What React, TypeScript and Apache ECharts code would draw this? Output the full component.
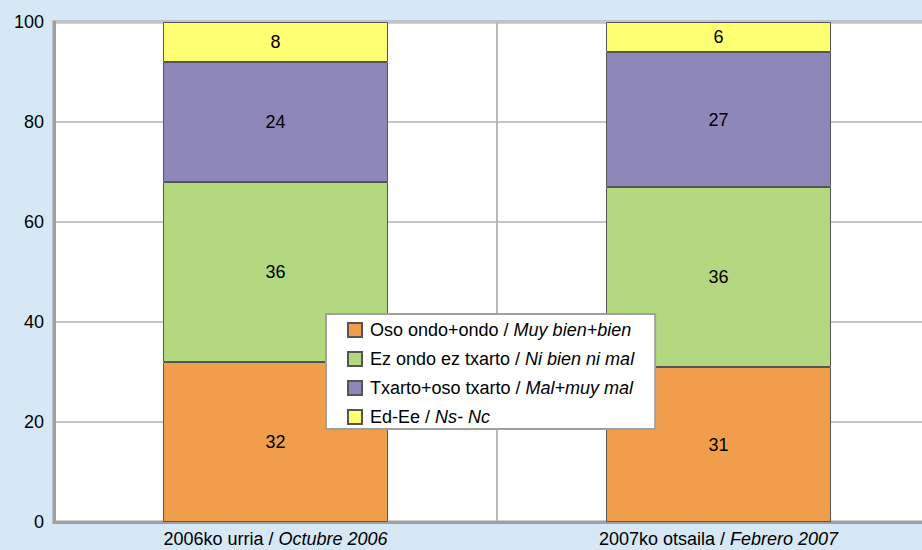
import React, { useEffect, useRef } from "react";
import * as echarts from "echarts";

const categories = ["2006ko urria|Octubre 2006", "2007ko otsaila|Febrero 2007"];
const seriesNames = [
  "Oso ondo+ondo|Muy bien+bien",
  "Ez ondo ez txarto|Ni bien ni mal",
  "Txarto+oso txarto|Mal+muy mal",
  "Ed-Ee|Ns- Nc",
];
const valsGood = [32, 31];
const valsNeither = [36, 36];
const valsBad = [24, 27];
const valsNsNc = [8, 6];
const colors = ["#f09e4b", "#b3d87f", "#8e87ba", "#ffff73"];

const FONT = "Arial";
const FS = 18;

function richLabel(s: string) {
  const [a, b] = s.split("|");
  return `{n|${a} / }{i|${b}}`;
}

export default function App() {
  const ref = useRef<HTMLDivElement>(null);
  useEffect(() => {
    if (!ref.current) return;
    const chart = echarts.init(ref.current, null, { renderer: "svg" });
    const dataSets = [valsGood, valsNeither, valsBad, valsNsNc];
    const rich = {
      n: { fontFamily: FONT, fontSize: FS, color: "#000", lineHeight: FS },
      i: { fontFamily: FONT, fontSize: FS, color: "#000", fontStyle: "italic", lineHeight: FS },
    };
    const legendRich = {
      n: { fontFamily: FONT, fontSize: FS, color: "#000", lineHeight: FS, padding: [0, 0, 0, 3] },
      i: { fontFamily: FONT, fontSize: FS, color: "#000", fontStyle: "italic", lineHeight: FS },
    };
    chart.setOption({
      animation: false,
      backgroundColor: "#d6e7f5",
      textStyle: { fontFamily: FONT },
      grid: {
        left: 54,
        top: 22,
        width: 886,
        height: 500,
        outerBoundsMode: "none",
        containLabel: false,
        show: true,
        backgroundColor: "#ffffff",
        borderColor: "#a0a0a0",
        borderWidth: 3,
      },
      legend: {
        orient: "vertical",
        left: 326,
        top: 314,
        backgroundColor: "#ffffff",
        borderColor: "#a0a0a0",
        borderWidth: 2,
        padding: [7, 21, 3, 21],
        itemGap: 11,
        itemWidth: 14,
        itemHeight: 14,
        icon: "rect",
        data: seriesNames,
        formatter: (name: string) => richLabel(name),
        textStyle: { rich: legendRich, fontSize: FS, fontFamily: FONT, color: "#000", lineHeight: FS },
      },
      xAxis: {
        type: "category",
        data: categories,
        axisLine: { lineStyle: { color: "#a0a0a0", width: 3 } },
        axisTick: { show: false },
        splitLine: { show: true, lineStyle: { color: "#b8b8b8", width: 2 } },
        axisLabel: {
          formatter: (v: string) => richLabel(v),
          rich,
          fontFamily: FONT,
          fontSize: FS,
          margin: 8,
        },
      },
      yAxis: {
        type: "value",
        min: 0,
        max: 100,
        interval: 20,
        axisLine: { show: true, lineStyle: { color: "#a0a0a0", width: 3 } },
        axisTick: { show: false },
        splitLine: { lineStyle: { color: "#c4c4c4", width: 2 } },
        axisLabel: { color: "#000", fontSize: FS, fontFamily: FONT, margin: 10 },
      },
      series: seriesNames.map((name, i) => ({
        name,
        type: "bar",
        stack: "total",
        barWidth: 225,
        data: dataSets[i],
        itemStyle: { color: colors[i], borderColor: "#555555", borderWidth: 1 },
        label: {
          show: true,
          position: "inside",
          color: "#000",
          fontSize: FS,
          fontFamily: FONT,
        },
      })),
    });
    return () => chart.dispose();
  }, []);
  return <div ref={ref} style={{ width: 922, height: 550, position: "absolute", left: 0, top: 0 }} />;
}
